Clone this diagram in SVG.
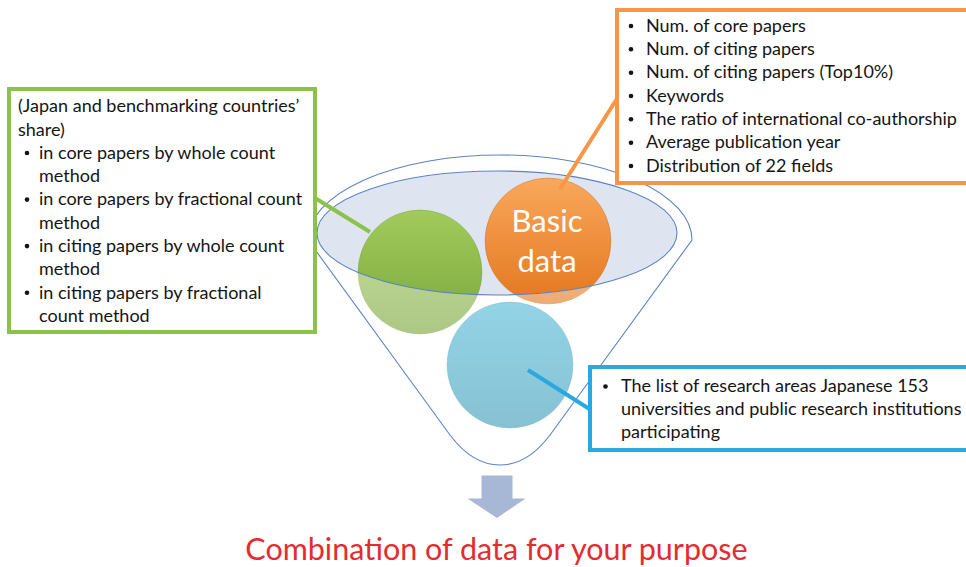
<svg xmlns="http://www.w3.org/2000/svg" width="966" height="567" viewBox="0 0 966 567">
<defs>
<style>
.t{font-family:Lato,"Open Sans","DejaVu Sans",sans-serif;font-size:18px;fill:#151515}
.box{fill:#fff;stroke-width:4}
.fun{fill:none;stroke:#5b84c4;stroke-width:1.1}
.con{stroke-width:4;stroke-linecap:butt;fill:none}
</style>
<linearGradient id="gG" x1="0" y1="0" x2="0" y2="1"><stop offset="0" stop-color="#a2cb5c"/><stop offset="1" stop-color="#7aa63a"/></linearGradient>
<linearGradient id="gO" x1="0" y1="0" x2="0" y2="1"><stop offset="0" stop-color="#f9a85c"/><stop offset="1" stop-color="#e4771f"/></linearGradient>
<linearGradient id="gB" x1="0" y1="0" x2="0" y2="1"><stop offset="0" stop-color="#52b9d8"/><stop offset="1" stop-color="#3c9cb8"/></linearGradient>
</defs>
<rect width="966" height="567" fill="#fff"/>
<g id="funnel">
<ellipse cx="497" cy="233" rx="180" ry="62" fill="#dfe5f0"/>
</g>
<g id="circle-green"><circle cx="420" cy="272" r="62" fill="url(#gG)" stroke="#6f9a36" stroke-opacity="0.4"/></g>
<g id="circle-orange"><circle cx="548" cy="241" r="63" fill="url(#gO)" stroke="#c96a1c" stroke-opacity="0.4"/>
<text x="547" y="232" text-anchor="middle" style="font-family:Lato,'Open Sans',sans-serif;font-size:31px;fill:#fff">Basic</text>
<text x="547" y="272" text-anchor="middle" style="font-family:Lato,'Open Sans',sans-serif;font-size:31px;fill:#fff">data</text></g>
<g id="circle-blue"><circle cx="510" cy="365" r="63" fill="url(#gB)" stroke="#2f8aa5" stroke-opacity="0.4"/></g>
<g id="funnel-body">
<path d="M308,240 A192,85 0 0 1 692,240 L550,435 C520,475 480,475 450,435 Z M317,233 A180,62 0 0 0 677,233 A180,62 0 0 0 317,233 Z" fill="#fff" fill-opacity="0.38" fill-rule="evenodd"/>
<path class="fun" d="M308,240 A192,85 0 0 1 692,240 L550,435 C520,475 480,475 450,435 Z"/>
<ellipse class="fun" cx="497" cy="233" rx="180" ry="62"/>
</g>
<g id="connectors">
<line class="con" x1="315" y1="198" x2="370" y2="232" stroke="#8bc34a"/>
<line class="con" x1="560" y1="189" x2="618" y2="97" stroke="#f79646"/>
<line class="con" x1="528" y1="370" x2="591" y2="410" stroke="#29a9e0"/>
</g>
<g id="box-green">
<rect class="box" x="9" y="89" width="306" height="243" stroke="#8bc34a"/>
<text class="t" x="18" y="112.3">(Japan and benchmarking countries’</text>
<text class="t" x="18" y="135.6">share)</text>
<g fill="#151515"><circle cx="27" cy="153" r="2.3"/><circle cx="27" cy="199.6" r="2.3"/><circle cx="27" cy="246.1" r="2.3"/><circle cx="27" cy="292.7" r="2.3"/></g>
<text class="t" x="39" y="158.8">in core papers by whole count</text>
<text class="t" x="39" y="182.1">method</text>
<text class="t" x="39" y="205.4">in core papers by fractional count</text>
<text class="t" x="39" y="228.7">method</text>
<text class="t" x="39" y="251.9">in citing papers by whole count</text>
<text class="t" x="39" y="275.2">method</text>
<text class="t" x="39" y="298.5">in citing papers by fractional</text>
<text class="t" x="39" y="321.7">count method</text>
</g>
<g id="box-orange">
<rect class="box" x="617" y="10" width="352" height="173" stroke="#f79646"/>
<g fill="#151515"><circle cx="631" cy="26" r="2.3"/><circle cx="631" cy="49.3" r="2.3"/><circle cx="631" cy="72.7" r="2.3"/><circle cx="631" cy="96" r="2.3"/><circle cx="631" cy="119.3" r="2.3"/><circle cx="631" cy="142.7" r="2.3"/><circle cx="631" cy="166" r="2.3"/></g>
<text class="t" x="646" y="31.7">Num. of core papers</text>
<text class="t" x="646" y="55">Num. of citing papers</text>
<text class="t" x="646" y="78.4">Num. of citing papers (Top10%)</text>
<text class="t" x="646" y="101.7">Keywords</text>
<text class="t" x="646" y="125">The ratio of international co-authorship</text>
<text class="t" x="646" y="148.4">Average publication year</text>
<text class="t" x="646" y="171.7">Distribution of 22 fields</text>
</g>
<g id="box-blue">
<rect class="box" x="590" y="367" width="379" height="83" stroke="#29a9e0"/>
<circle cx="605.5" cy="386.5" r="2.3" fill="#151515"/>
<text class="t" x="621" y="392">The list of research areas Japanese 153</text>
<text class="t" x="621" y="415.3">universities and public research institutions</text>
<text class="t" x="621" y="438">participating</text>
</g>
<g id="arrow">
<path d="M481.5,475.5 H512.5 V498.5 H525.5 L497,518 L467.5,498.5 H481.5 Z" fill="#a7b7d6"/>
</g>
<g id="result">
<text x="496.5" y="560" text-anchor="middle" style="font-family:Lato,'Open Sans',sans-serif;font-size:30.5px;fill:#e52b2f">Combination of data for your purpose</text>
</g>
</svg>
